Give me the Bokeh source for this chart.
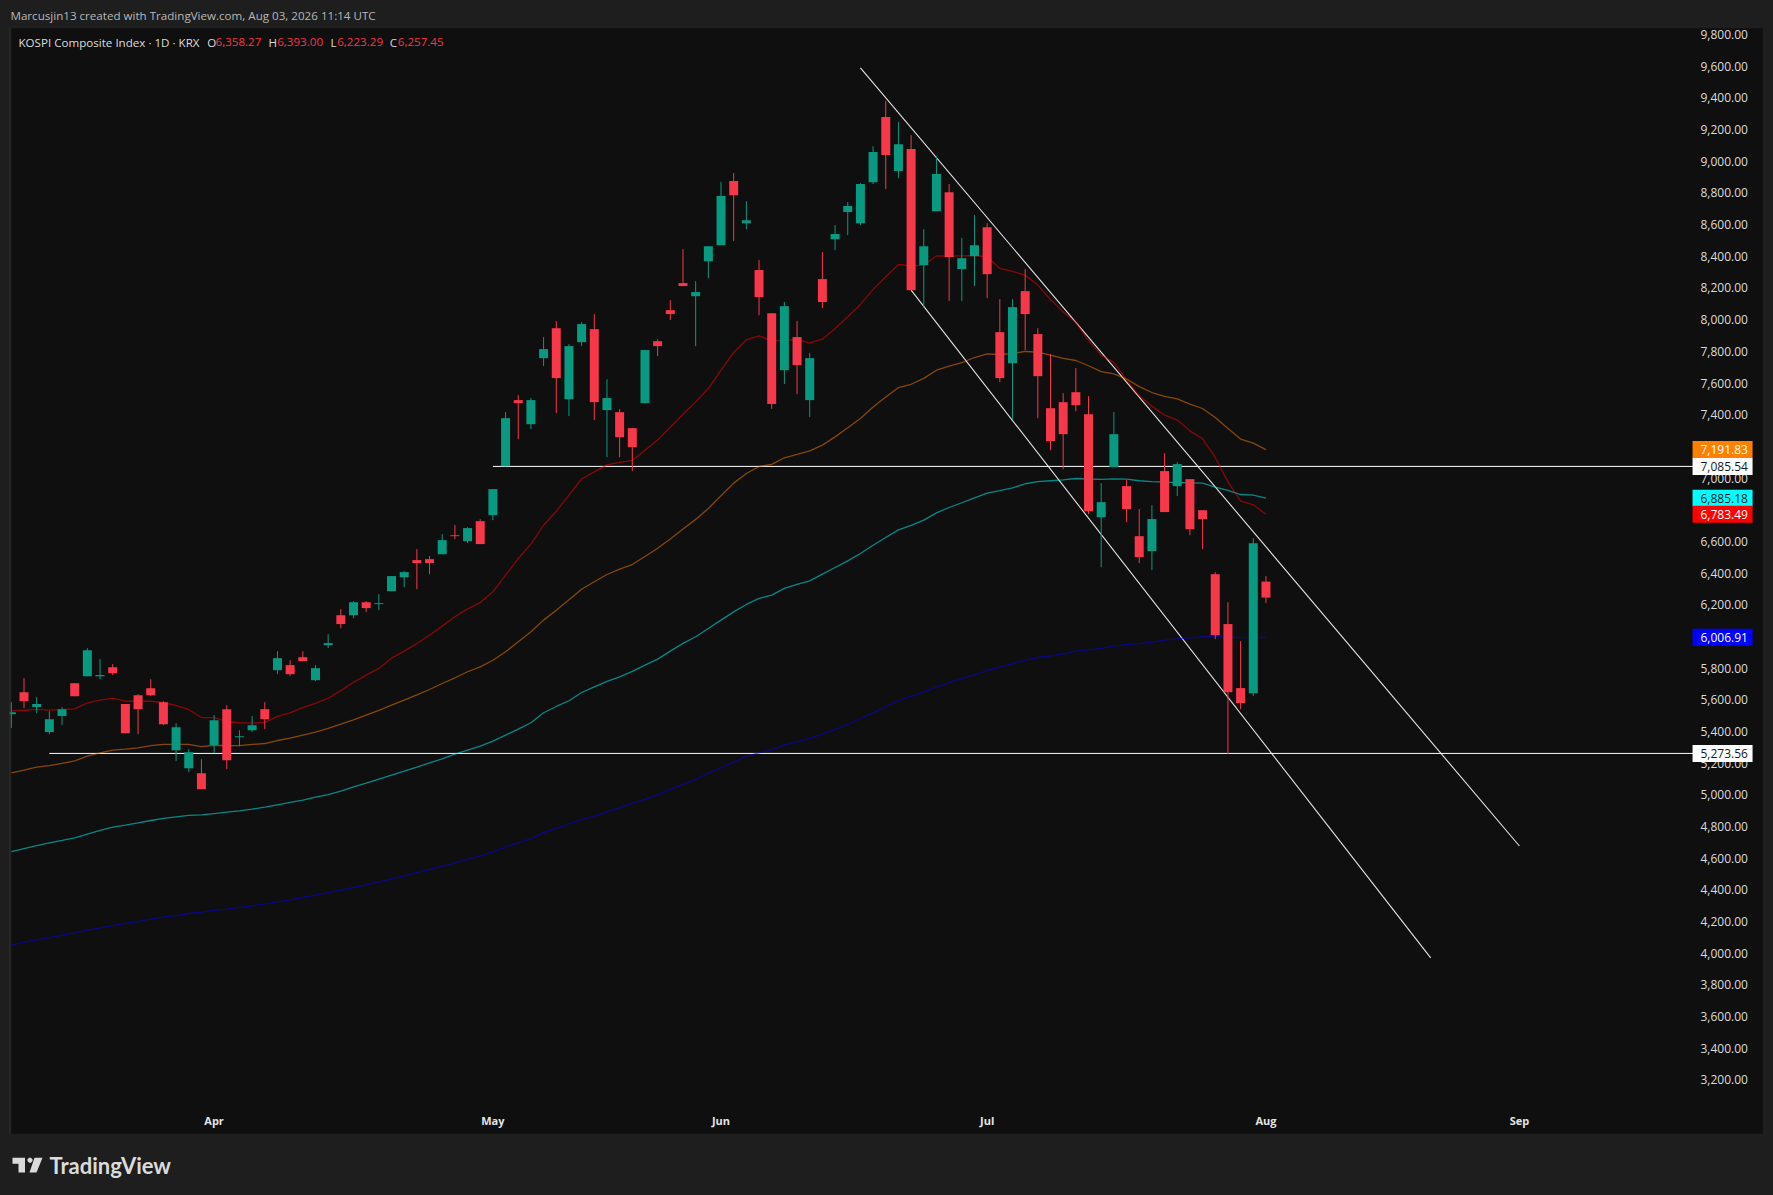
from bokeh.plotting import figure
from bokeh.embed import file_html
from bokeh.resources import INLINE
from bokeh.models import Label, PolyAnnotation, BoxAnnotation, FixedTicker, Range1d
from bokeh.core.properties import value

opens = [5521,5660,5566,5408,5509,5717,5761,5761,5818,5585,
5641,5685,5597,5294,5180,5149,5326,5553,5376,5420,
5553,5799,5831,5881,5736,5957,6146,6146,6228,6216,
6298,6386,6494,6500,6531,6651,6614,6740,6778,7087,
7504,7352,7769,7958,7510,7870,7952,7441,7428,7327,
7485,7876,8072,8243,8160,8381,8482,8887,8621,8325,
8053,7693,7902,7504,8268,8520,8691,8621,8880,9291,
8950,9089,8356,8697,8817,8331,8413,8596,7933,7737,
8192,7921,7453,7491,7554,7415,6765,7081,6961,6645,
6551,7056,6961,7005,6809,6405,6090,5686,5654,6358.27]
closes = [5534,5603,5585,5490,5553,5635,5925,5768,5780,5401,
5553,5641,5458,5439,5281,5048,5483,5231,5382,5452,
5490,5875,5774,5856,5812,5970,6090,6228,6191,6222,
6393,6418,6475,6475,6620,6645,6696,6595,6942,7390,
7485,7504,7826,7643,7845,7984,7491,7517,7270,7207,
7820,7845,8047,8224,8186,8476,8792,8798,8640,8154,
7479,8097,7725,7769,8123,8552,8729,8868,9070,9051,
9120,8198,8476,8931,8407,8400,8482,8299,7643,8091,
8047,7655,7245,7289,7472,6803,6860,7289,6816,6513,
6753,6797,7100,6689,6753,6020,5660,5591,6601,6257.45]
highs = [5597,5749,5629,5540,5566,5717,5938,5869,5837,5585,
5648,5742,5603,5464,5300,5237,5515,5578,5420,5509,
5597,5919,5862,5919,5831,6026,6184,6235,6235,6279,
6393,6424,6563,6519,6658,6715,6702,6752,6942,7428,
7535,7517,7902,8003,7857,7996,8047,7636,7447,7327,
7820,7889,8135,8457,8255,8476,8880,8937,8760,8388,
8053,8123,8003,7801,8438,8609,8754,8874,9107,9392,
9259,9177,8583,9044,8868,8527,8672,8621,8141,8141,
8331,7958,7794,7548,7706,7529,6980,7428,6999,6816,
6841,7169,7112,7005,6809,6418,6228,5982,6632,6393.00]
lows = [5435,5559,5528,5395,5452,5635,5761,5742,5768,5401,
5395,5635,5452,5225,5155,5048,5275,5174,5319,5408,
5427,5774,5761,5856,5730,5938,6064,6127,6165,6178,
6298,6323,6310,6405,6531,6626,6601,6595,6746,7087,
7258,7321,7719,7422,7403,7845,7378,7144,7144,7056,
7485,7782,8009,8224,7845,8274,8482,8508,8583,8040,
7449,7605,7542,7397,8085,8451,8546,8609,8868,8836,
8905,8198,8085,8697,8129,8129,8224,8148,7617,7384,
7819,7390,7188,7068,7434,6784,6449,7081,6734,6475,
6431,6797,6898,6652,6563,5995,5270,5553,5635,6223.29]

ma_red = [5542,5546,5551,5547,5550,5555,5593,5610,5622,5603,
5603,5603,5595,5576,5551,5500,5500,5475,5467,5465,
5469,5507,5530,5563,5589,5622,5670,5723,5768,5810,
5875,5919,5967,6020,6077,6136,6186,6226,6294,6399,
6504,6595,6714,6802,6904,7006,7051,7095,7111,7123,
7188,7253,7333,7415,7493,7577,7693,7805,7885,7910,
7876,7883,7885,7866,7889,7956,8030,8108,8203,8283,
8360,8352,8356,8415,8413,8415,8417,8409,8335,8316,
8293,8230,8139,8061,7995,7880,7788,7742,7632,7530,
7466,7409,7378,7310,7260,7142,6988,6868,6843,6783.49]
ma_orange = [5150,5168,5187,5197,5210,5227,5256,5277,5294,5300,
5309,5323,5330,5330,5330,5317,5325,5323,5323,5330,
5336,5355,5370,5389,5408,5431,5458,5485,5515,5545,
5578,5610,5643,5677,5715,5751,5789,5820,5862,5915,
5978,6041,6115,6178,6243,6310,6357,6403,6437,6466,
6517,6569,6627,6690,6751,6820,6900,6980,7041,7085,
7098,7140,7161,7184,7220,7272,7329,7388,7460,7523,
7583,7604,7641,7693,7718,7741,7773,7796,7792,7798,
7811,7807,7788,7767,7754,7721,7684,7669,7637,7589,
7552,7527,7512,7479,7451,7394,7325,7258,7232,7191.83]
ma_teal = [4654,4673,4692,4709,4724,4741,4764,4787,4808,4821,
4835,4850,4863,4873,4882,4885,4894,4903,4911,4922,
4934,4949,4964,4978,4997,5014,5035,5063,5086,5111,
5136,5161,5187,5214,5239,5269,5294,5319,5351,5389,
5427,5467,5530,5570,5606,5658,5694,5728,5757,5791,
5831,5869,5919,5968,6010,6062,6115,6167,6214,6252,
6273,6315,6340,6363,6405,6447,6489,6536,6588,6637,
6685,6713,6746,6792,6826,6856,6887,6917,6933,6950,
6976,6990,6995,7000,7009,7006,7003,7007,7005,6995,
6990,6986,6984,6982,6980,6955,6934,6908,6904,6885.18]
ma_blue = [4063,4082,4097,4111,4126,4141,4158,4172,4187,4200,
4212,4227,4240,4250,4263,4271,4282,4290,4301,4311,
4324,4336,4349,4364,4379,4395,4410,4427,4444,4463,
4482,4501,4522,4541,4562,4583,4604,4625,4652,4682,
4709,4736,4774,4800,4828,4855,4879,4903,4932,4958,
4985,5014,5046,5077,5109,5147,5183,5218,5256,5277,
5298,5328,5347,5368,5395,5425,5456,5494,5530,5568,
5606,5633,5662,5692,5721,5747,5770,5797,5818,5841,
5862,5879,5890,5902,5919,5927,5936,5951,5961,5967,
5976,5989,5997,6003,6010,6014,6010,6005,6005,6006.91]

price_ticks = list(range(3200, 10000, 200))
month_ticks = [16, 38, 56, 77, 99, 119]
month_names = ["Apr", "May", "Jun", "Jul", "Aug", "Sep"]

channel_upper_x = [67, 119]
channel_upper_y = [9601, 4689]
channel_lower_x = [71, 112]
channel_lower_y = [8198, 3983]
level_high = 7085.54
level_low = 5273.56
level_high_start = 38
level_low_start = 3
level_end = 132.7

tag_values = [7191.83, 6885.18, 6783.49, 6006.91, 7085.54, 5273.56]
tag_fills = ["#ff7f00", "#00ffff", "#ff0000", "#0000ff", "#ffffff", "#ffffff"]
tag_inks = ["#ffffff", "#131722", "#ffffff", "#ffffff", "#131722", "#131722"]
tag_texts = ["7,191.83", "6,885.18", "6,783.49", "6,006.91", "7,085.54", "5,273.56"]

UP, DOWN = "#089a81", "#f7374a"
PANEL, OUTER, EDGE = "#0f0f0f", "#1e1e1e", "#2e2e2e"
FONT = "Open Sans"
W, H = 1773, 1195
LABEL_NUDGE = 12  # the price scale prints its labels about 2 px above the value they name

idx = list(range(len(opens)))
colors = [UP if c >= o else DOWN for o, c in zip(opens, closes)]

# the frame fills the whole page; the dark chart panel is a box inside it
p = figure(width=W, height=H, output_backend="svg", toolbar_location=None,
           x_range=Range1d(-0.8546, 139.05), y_range=Range1d(2482.6, 10026.8),
           y_axis_location="right", x_axis_location="below",
           background_fill_color=OUTER, border_fill_color=OUTER,
           min_border_left=0, min_border_right=0, min_border_top=0, min_border_bottom=0,
           outline_line_color=None)
p.grid.visible = False

p.add_layout(BoxAnnotation(left=10, right=1763, top=27, bottom=1134,
                           left_units="canvas", right_units="canvas", top_units="canvas", bottom_units="canvas",
                           fill_color=PANEL, fill_alpha=1, line_color=EDGE, line_width=2, level="underlay"))

ax = p.yaxis[0]
ax.ticker = FixedTicker(ticks=[t + LABEL_NUDGE for t in price_ticks])
ax.major_label_overrides = {t + LABEL_NUDGE: f"{t:,.2f}" for t in price_ticks}
ax.axis_line_color = None
ax.major_tick_line_color = None
ax.minor_tick_line_color = None
ax.major_label_standoff = -79
ax.major_label_text_font = FONT
ax.major_label_text_font_size = "12px"
ax.major_label_text_color = "#dcdcdc"

bx = p.xaxis[0]
bx.ticker = FixedTicker(ticks=month_ticks)
bx.major_label_overrides = dict(zip(month_ticks, month_names))
bx.axis_line_color = None
bx.major_tick_line_color = None
bx.minor_tick_line_color = None
bx.major_label_standoff = -89
bx.major_label_text_font = FONT
bx.major_label_text_font_size = "11px"
bx.major_label_text_font_style = "bold"
bx.major_label_text_color = "#e4e4e4"

# drawn levels and channel
p.line(channel_upper_x, channel_upper_y, color="#e6e6e6", line_width=1.1)
p.line(channel_lower_x, channel_lower_y, color="#e6e6e6", line_width=1.1)
p.segment([level_high_start], [level_high], [level_end], [level_high], color="#ffffff", line_width=1)
p.segment([level_low_start], [level_low], [level_end], [level_low], color="#ffffff", line_width=1)

# moving averages
for series, col in ((ma_blue, "#0000ff"), (ma_teal, "#00ffff"), (ma_orange, "#ff7f00"), (ma_red, "#ff0000")):
    p.line(idx, series, color=col, line_alpha=0.5, line_width=1.3)

# candles
p.segment(idx, lows, idx, highs, color=colors, line_width=1)
p.vbar(x=idx, width=0.71, top=[max(o, c) for o, c in zip(opens, closes)],
       bottom=[min(o, c) for o, c in zip(opens, closes)], fill_color=colors, line_color=None)

# the first candle is cut by the panel's left edge
p.add_layout(BoxAnnotation(left=0, right=9, top=27, bottom=1134,
                           left_units="canvas", right_units="canvas", top_units="canvas", bottom_units="canvas",
                           fill_color=OUTER, fill_alpha=1, line_color=None, level="overlay"))
p.add_layout(BoxAnnotation(left=9, right=10, top=27, bottom=1134,
                           left_units="canvas", right_units="canvas", top_units="canvas", bottom_units="canvas",
                           fill_color=EDGE, fill_alpha=1, line_color=None, level="overlay"))

# price tags over the axis
TAG_CX, TAG_TX = 135.03, 133.29
p.rect(x=[TAG_CX] * 6, y=tag_values, width=60, height=17, width_units="screen", height_units="screen",
       fill_color=tag_fills, line_color=None, level="overlay")
p.text(x=[TAG_TX] * 6, y=tag_values, text=tag_texts, text_color=tag_inks, text_align="left",
       text_baseline="middle", text_font=value(FONT), text_font_size="12px", level="overlay")

def put(x, y, text, color, size="11.6px", style="normal", font=FONT):
    p.add_layout(Label(x=x, y=y, x_units="canvas", y_units="canvas", text=text, text_color=color,
                       text_font=font, text_font_size=size, text_font_style=style,
                       text_baseline="middle", text_align="left", level="overlay"))

put(10, 14.7, "Marcusjin13 created with TradingView.com, Aug 03, 2026 11:14 UTC", "#b8b8b8")
put(18, 41.7, "KOSPI Composite Index \u00b7 1D \u00b7 KRX", "#dcdcdc")
for xa, xb, letter, val in ((206.7, 215, "O", "6,358.27"), (268, 276.7, "H", "6,393.00"),
                            (330, 336.7, "L", "6,223.29"), (389.3, 397.3, "C", "6,257.45")):
    put(xa, 41.7, letter, "#dcdcdc")
    put(xb, 41.7, val, "#f23645")
put(49, 1165, "TradingView", "#dbdbdb", size="22px", style="bold", font="Lato")

def shape(xs, ys):
    p.add_layout(PolyAnnotation(xs=xs, ys=ys, xs_units="canvas", ys_units="canvas",
                                fill_color="#dbdbdb", fill_alpha=1, line_color=None, level="overlay"))

shape([12, 24.5, 24.5, 18, 18, 12], [1157.3, 1157.3, 1172, 1172, 1163.3, 1163.3])
shape([34, 42, 36, 29], [1157.3, 1157.3, 1172, 1172])
shape([27, 28.5, 30.5, 32, 32, 30.5, 28.5, 27], [1159, 1157.3, 1157.3, 1159, 1160.6, 1162.3, 1162.3, 1160.6])

html = file_html(p, INLINE).replace("</head>", "<style>html,body{background:#1e1e1e;overflow:hidden}</style></head>")
open("out.html", "w").write(html)
